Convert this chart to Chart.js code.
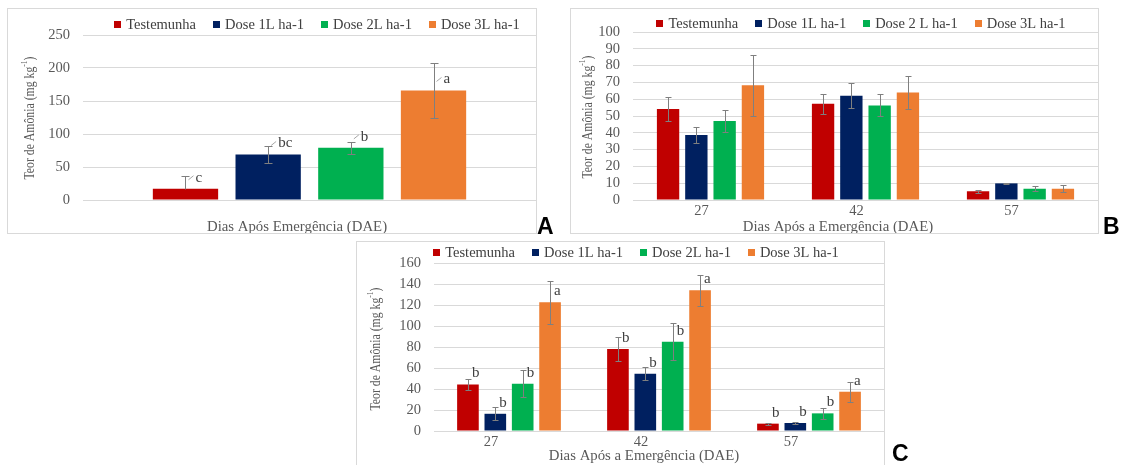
<!DOCTYPE html>
<html>
<head>
<meta charset="utf-8">
<script src="https://cdn.jsdelivr.net/npm/chart.js@4.4.1/dist/chart.umd.min.js"></script>
<style>
  body { margin: 0; background: #fff; width: 1128px; height: 465px; overflow: hidden; position: relative; }
  canvas { position: absolute; }
  .box { position: absolute; border: 1px solid #d9d9d9; box-sizing: border-box; pointer-events: none; }
  .tag { position: absolute; font: bold 23px/23px "Liberation Sans", Arial, sans-serif; color: #000; }
</style>
</head>
<body>
<canvas id="chartA" width="530" height="226" style="left:7px;top:8px"></canvas>
<div class="box" style="left:7px;top:8px;width:530px;height:226px"></div>
<div class="tag" style="left:537px;top:215px">A</div>

<canvas id="chartB" width="529" height="226" style="left:570px;top:8px"></canvas>
<div class="box" style="left:570px;top:8px;width:529px;height:226px"></div>
<div class="tag" style="left:1103px;top:215px">B</div>

<canvas id="chartC" width="529" height="226" style="left:356px;top:241px"></canvas>
<div class="box" style="left:356px;top:241px;width:529px;height:226px"></div>
<div class="tag" style="left:892px;top:442px">C</div>

<script>
// series names and colours
const namesA = ['Testemunha', 'Dose 1L ha-1', 'Dose 2L ha-1', 'Dose 3L ha-1'];
const namesB = ['Testemunha', 'Dose 1L ha-1', 'Dose 2 L ha-1', 'Dose 3L ha-1'];
const namesC = ['Testemunha', 'Dose 1L ha-1', 'Dose 2L ha-1', 'Dose 3L ha-1'];
const colors = ['#c00000', '#002060', '#00b050', '#ed7d31'];

// panel A: one sampling, one bar per treatment
const valuesA = [17, 69, 79, 166];
const errorsA = [19, 12.5, 9.5, 42];
const lettersA = ['c', 'bc', 'b', 'a'];

// panel B
const daysB = ['27', '42', '57'];
const testemunhaB = [54.2, 57.3, 5.2];
const dose1B = [38.7, 62, 9.9];
const dose2B = [47, 56.3, 6.7];
const dose3B = [68.3, 64, 6.7];
const testemunhaErrB = [7.2, 5.9, 0.9];
const dose1ErrB = [4.8, 7.4, 0.3];
const dose2ErrB = [6.7, 6.5, 1.6];
const dose3ErrB = [18.2, 10, 2.1];

// panel C
const daysC = ['27', '42', '57'];
const testemunhaC = [44.3, 78.2, 7];
const dose1C = [16.4, 54.5, 7.6];
const dose2C = [45, 84.9, 16.8];
const dose3C = [122.6, 134, 37.4];
const testemunhaErrC = [5, 11.3, 1];
const dose1ErrC = [6, 6, 0.6];
const dose2ErrC = [13, 17.6, 5];
const dose3ErrC = [20.5, 14.5, 9.5];
const testemunhaLetC = ['b', 'b', 'b'];
const dose1LetC = ['b', 'b', 'b'];
const dose2LetC = ['b', 'b', 'b'];
const dose3LetC = ['a', 'a', 'a'];

// y axis ticks
const yMaxA = 250, yStepA = 50;
const yMaxB = 100, yStepB = 10;
const yMaxC = 160, yStepC = 20;

const serif = '"Liberation Serif", "Times New Roman", serif';
Chart.defaults.font.family = serif;
const textGray = '#595959';

// error bars, letters, legend and axis titles
const decor = {
  id: 'decor',
  afterDatasetsDraw(chart, args, o) {
    const ctx = chart.ctx;
    const y = chart.scales.y;
    ctx.save();
    chart.data.datasets.forEach((ds, i) => {
      const meta = chart.getDatasetMeta(i);
      meta.data.forEach((bar, j) => {
        const v = ds.data[j], e = ds.err[j];
        const x = Math.round(bar.x) + 0.5;
        const top = Math.round(y.getPixelForValue(v + e)) + 0.5;
        const hasLow = v - e >= 0;
        const low = Math.round(y.getPixelForValue(hasLow ? v - e : v)) + 0.5;
        ctx.strokeStyle = '#7f7f7f';
        ctx.lineWidth = 1;
        ctx.beginPath();
        ctx.moveTo(x, top); ctx.lineTo(x, low);
        ctx.moveTo(x - o.cap, top); ctx.lineTo(x + o.cap, top);
        if (hasLow) { ctx.moveTo(x - o.cap, low); ctx.lineTo(x + o.cap, low); }
        ctx.stroke();

        if (ds.letters) {
          const ly = bar.y - 11;
          const lx = bar.x + o.letterDx;
          ctx.fillStyle = '#404040';
          ctx.font = '15px ' + serif;
          ctx.textAlign = 'left';
          ctx.textBaseline = 'middle';
          ctx.fillText(ds.letters[j], lx, ly);
          if (o.leader) {
            ctx.strokeStyle = '#a6a6a6';
            ctx.beginPath();
            ctx.moveTo(bar.x + 3, ly + 2);
            ctx.lineTo(lx - 2, ly - 2);
            ctx.stroke();
          }
        }
      });
    });
    ctx.restore();
  },
  afterDraw(chart, args, o) {
    const ctx = chart.ctx;
    ctx.save();
    // legend
    ctx.font = '14.5px ' + serif;
    ctx.textBaseline = 'middle';
    ctx.textAlign = 'left';
    const sq = 7, gapIn = 5, gapOut = 17;
    const widths = chart.data.datasets.map(ds => sq + gapIn + ctx.measureText(ds.label).width);
    const total = widths.reduce((a, b) => a + b, 0) + gapOut * (widths.length - 1);
    let lx = o.legendX - total / 2;
    chart.data.datasets.forEach((ds, i) => {
      ctx.fillStyle = ds.backgroundColor;
      ctx.fillRect(Math.round(lx), Math.round(o.legendY - sq / 2), sq, sq);
      ctx.fillStyle = '#404040';
      ctx.fillText(ds.label, lx + sq + gapIn, o.legendY + 1);
      lx += widths[i] + gapOut;
    });

    // x title
    ctx.fillStyle = textGray;
    ctx.font = '14.8px ' + serif;
    ctx.textAlign = 'center';
    ctx.fillText(o.xTitle, o.xTitleX, o.xTitleY);

    // y title with superscript, slightly condensed along its length
    ctx.translate(o.yTitleX, o.yTitleY);
    ctx.rotate(-Math.PI / 2);
    ctx.scale(0.84, 1);
    const mainF = '14px ' + serif, supF = '9px ' + serif;
    const p1 = 'Teor de Amônia (mg kg', p2 = '-1', p3 = ')';
    ctx.font = mainF;
    const w1 = ctx.measureText(p1).width, w3 = ctx.measureText(p3).width;
    ctx.font = supF;
    const w2 = ctx.measureText(p2).width;
    let tx = -(w1 + w2 + w3) / 2;
    ctx.textAlign = 'left';
    ctx.font = mainF;
    ctx.fillText(p1, tx, 0);
    ctx.font = supF;
    ctx.fillText(p2, tx + w1, -5);
    ctx.font = mainF;
    ctx.fillText(p3, tx + w1 + w2, 0);
    ctx.restore();
  }
};

function makeChart(id, cfg) {
  return new Chart(document.getElementById(id), {
    type: 'bar',
    data: { labels: cfg.labels, datasets: cfg.datasets },
    options: {
      responsive: false,
      animation: false,
      devicePixelRatio: 1,
      layout: { padding: { top: cfg.top, right: 1, left: 0, bottom: 0 } },
      datasets: { bar: { categoryPercentage: 0.73, barPercentage: 0.79 } },
      plugins: {
        legend: { display: false },
        tooltip: { enabled: false },
        decor: cfg.decor
      },
      scales: {
        x: {
          grid: { display: false, drawTicks: false },
          border: { display: false },
          ticks: { display: cfg.showX, padding: 2, labelOffset: cfg.labelOffset, color: textGray, font: { size: 14.5 } },
          afterFit: s => { s.height = cfg.xHeight; }
        },
        y: {
          min: 0, max: cfg.yMax,
          ticks: { stepSize: cfg.yStep, autoSkip: false, maxTicksLimit: 30, padding: 13, color: textGray, font: { size: 14.5 } },
          grid: { color: '#d9d9d9', drawTicks: false },
          border: { display: false },
          afterFit: s => { s.width = cfg.yWidth; }
        }
      }
    },
    plugins: [decor]
  });
}

const dsA = namesA.map((n, i) => ({
  label: n, data: [valuesA[i]], err: [errorsA[i]], letters: [lettersA[i]],
  backgroundColor: colors[i]
}));
makeChart('chartA', {
  labels: [''], datasets: dsA, top: 27, xHeight: 34, yWidth: 76, showX: false, labelOffset: 0,
  yMax: yMaxA, yStep: yStepA,
  decor: { cap: 4, letterDx: 10, leader: true, legendX: 310, legendY: 16,
    xTitle: 'Dias Após Emergência (DAE)', xTitleX: 290, xTitleY: 219, yTitleX: 23, yTitleY: 110 }
});

const valsB = [testemunhaB, dose1B, dose2B, dose3B];
const errsB = [testemunhaErrB, dose1ErrB, dose2ErrB, dose3ErrB];
const dsB = namesB.map((n, i) => ({ label: n, data: valsB[i], err: errsB[i], backgroundColor: colors[i] }));
makeChart('chartB', {
  labels: daysB, datasets: dsB, top: 24, xHeight: 34, yWidth: 63, showX: true, labelOffset: -9,
  yMax: yMaxB, yStep: yStepB,
  decor: { cap: 3, legendX: 291, legendY: 15,
    xTitle: 'Dias Após a Emergência (DAE)', xTitleX: 268, xTitleY: 219, yTitleX: 18, yTitleY: 109 }
});

const valsC = [testemunhaC, dose1C, dose2C, dose3C];
const errsC = [testemunhaErrC, dose1ErrC, dose2ErrC, dose3ErrC];
const letsC = [testemunhaLetC, dose1LetC, dose2LetC, dose3LetC];
const dsC = namesC.map((n, i) => ({ label: n, data: valsC[i], err: errsC[i], letters: letsC[i], backgroundColor: colors[i] }));
makeChart('chartC', {
  labels: daysC, datasets: dsC, top: 22, xHeight: 36, yWidth: 78, showX: true, labelOffset: -18,
  yMax: yMaxC, yStep: yStepC,
  decor: { cap: 3, letterDx: 4, leader: false, legendX: 280, legendY: 11,
    xTitle: 'Dias Após a Emergência (DAE)', xTitleX: 288, xTitleY: 215, yTitleX: 20, yTitleY: 108 }
});
</script>
</body>
</html>
